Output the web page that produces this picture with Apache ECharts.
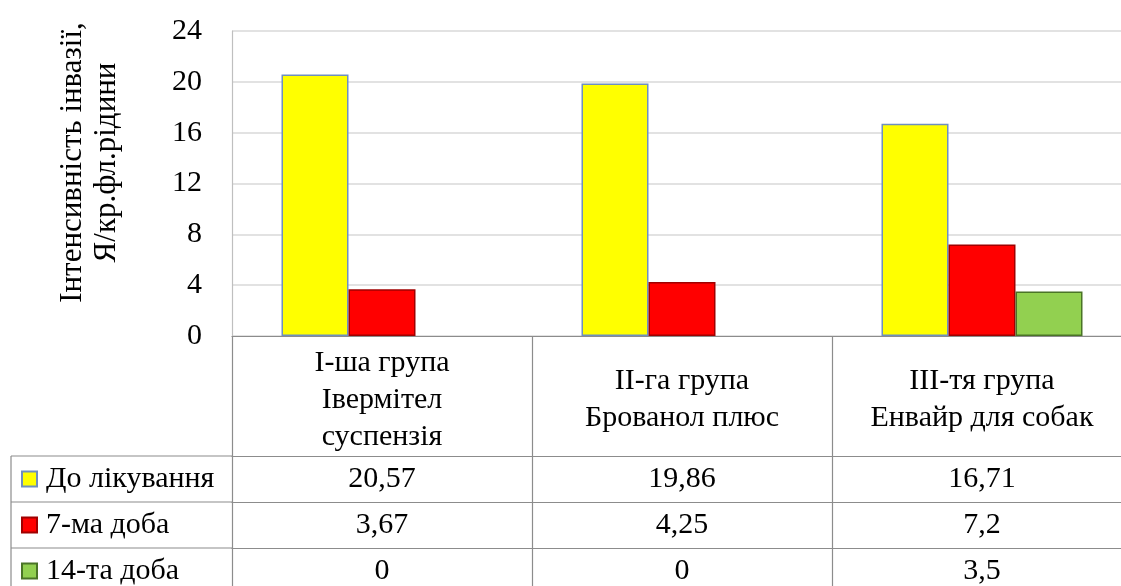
<!DOCTYPE html>
<html>
<head>
<meta charset="utf-8">
<script src="https://cdn.jsdelivr.net/npm/echarts@6/dist/echarts.min.js"></script>
<style>
html,body{margin:0;padding:0;background:#fff;}
#c{width:1121px;height:586px;}
</style>
</head>
<body>
<div id="c"></div>
<script>
const categories = ['І-ша група\nІвермітел\nсуспензія', 'ІІ-га група\nБрованол плюс', 'ІІІ-тя група\nЕнвайр для собак'];
const seriesNames = ['До лікування', '7-ма доба', '14-та доба'];
const beforeTreatment = [20.57, 19.86, 16.71];
const day7 = [3.67, 4.25, 7.2];
const day14 = [0, 0, 3.5];
const yTicks = [0, 4, 8, 12, 16, 20, 24];

const seriesValues = [beforeTreatment, day7, day14];
const colors = ['#ffff00', '#ff0000', '#92d050'];
const borders = ['#6f8fbf', '#a00000', '#4a7426'];
const FONT = 'Liberation Serif';
const fmt = v => String(v).replace('.', ',');

const GRID_LEFT = 232, GRID_TOP = 31, AXIS_Y = 336;
const rowTops = [456, 502, 548];
const LINE = '#8c8c8c';

const xAxes = [{
  type: 'category', gridIndex: 0, data: categories, position: 'bottom',
  axisLine: { show: true, lineStyle: { color: LINE, width: 1.2 } },
  axisTick: { show: true, length: 270, lineStyle: { color: LINE, width: 1.2 } },
  axisLabel: { fontFamily: FONT, fontSize: 30, color: '#000', lineHeight: 37, margin: 64, verticalAlign: 'middle', interval: 0 }
}];
seriesValues.forEach((vals, i) => {
  xAxes.push({
    type: 'category', gridIndex: 0, data: categories, position: 'bottom',
    offset: rowTops[i] - AXIS_Y,
    axisLine: { show: true, lineStyle: { color: LINE, width: 1.2 } },
    axisTick: { show: false },
    axisLabel: { fontFamily: FONT, fontSize: 30, color: '#000', lineHeight: 32, margin: 7, interval: 0,
      formatter: (v, idx) => fmt(vals[idx]) }
  });
});

const chart = echarts.init(document.getElementById('c'));
chart.setOption({
  animation: false,
  backgroundColor: '#fff',
  grid: { left: GRID_LEFT, top: GRID_TOP, width: 900, height: AXIS_Y - GRID_TOP, containLabel: false, outerBoundsMode: 'none' },
  legend: {
    orient: 'vertical', left: 21, top: 463, height: 200, padding: 0, itemGap: 14,
    itemWidth: 15, itemHeight: 15, icon: 'rect',
    data: seriesNames,
    textStyle: { fontFamily: FONT, fontSize: 30, color: '#000', lineHeight: 32, padding: [0, 0, 0, 4] }
  },
  xAxis: xAxes,
  yAxis: {
    type: 'value', min: yTicks[0], max: yTicks[yTicks.length - 1], interval: 4,
    name: 'Інтенсивність інвазії,\nЯ/кр.фл.рідини',
    nameLocation: 'middle', nameGap: 108,
    nameTextStyle: { fontFamily: FONT, fontSize: 31, color: '#000', lineHeight: 34, padding: [0, 0, 0, 42] },
    axisLine: { show: true, lineStyle: { color: '#bfbfbf', width: 1.2 } },
    axisTick: { show: false },
    axisLabel: { fontFamily: FONT, fontSize: 30, color: '#000', margin: 30 },
    splitLine: { lineStyle: { color: '#d9d9d9', width: 1.5 } }
  },
  series: seriesValues.map((vals, i) => ({
    name: seriesNames[i], type: 'bar', xAxisIndex: 0, barWidth: 67, barGap: '0%',
    data: vals.map(v => v === 0 ? { value: v, itemStyle: { borderWidth: 0 } } : v),
    itemStyle: { color: colors[i], borderColor: borders[i], borderWidth: 1.5 }
  })),
  graphic: [
    ...rowTops.map(y => ({ type: 'line', shape: { x1: 11, y1: y, x2: GRID_LEFT, y2: y },
      style: { stroke: LINE, lineWidth: 1.2 }, silent: true })),
    { type: 'line', shape: { x1: 11, y1: rowTops[0], x2: 11, y2: 600 },
      style: { stroke: LINE, lineWidth: 1.2 }, silent: true }
  ]
});
</script>
</body>
</html>
